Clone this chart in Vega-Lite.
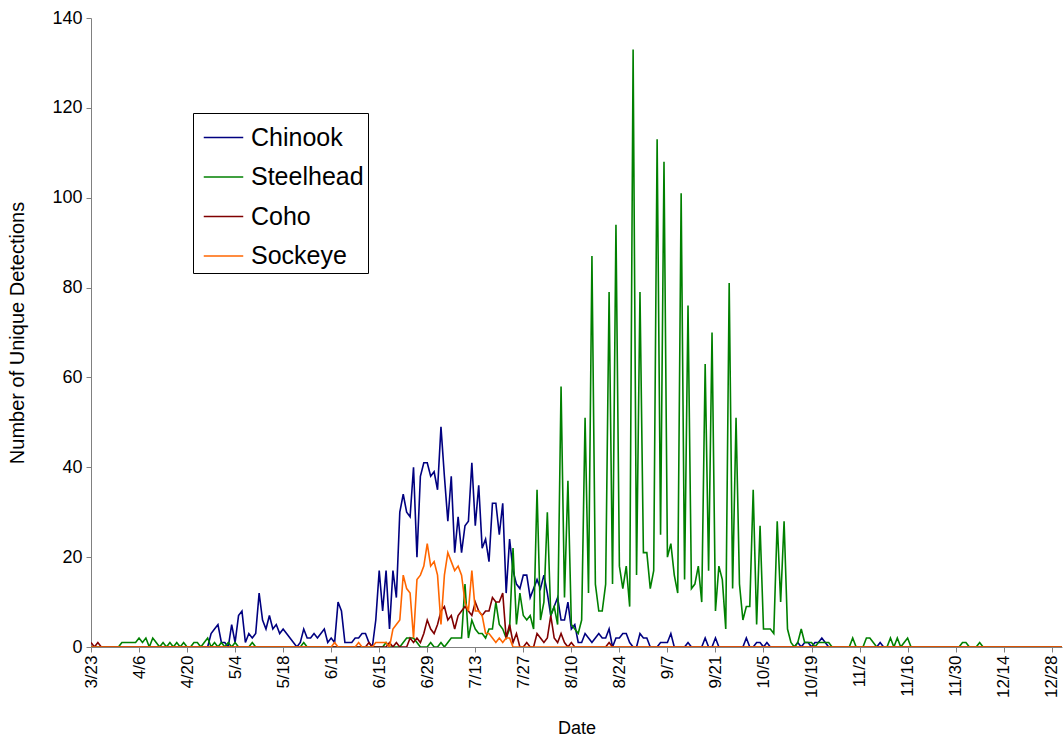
{
"$schema":"https://vega.github.io/schema/vega-lite/v6.json",
"autosize":"none",
"width":971,"height":629,
"padding":{"left":91,"top":18,"right":1,"bottom":93},
"background":"white",
"config":{"view":{"stroke":null},"font":"Liberation Sans"},
"data":{"values":[
{"date":"2009/03/23","Chinook":0,"Steelhead":0,"Coho":1,"Sockeye":0},
{"date":"2009/03/24","Chinook":0,"Steelhead":0,"Coho":0,"Sockeye":0},
{"date":"2009/03/25","Chinook":0,"Steelhead":0,"Coho":1,"Sockeye":0},
{"date":"2009/03/26","Chinook":0,"Steelhead":0,"Coho":0,"Sockeye":0},
{"date":"2009/03/27","Chinook":0,"Steelhead":0,"Coho":0,"Sockeye":0},
{"date":"2009/03/28","Chinook":0,"Steelhead":0,"Coho":0,"Sockeye":0},
{"date":"2009/03/29","Chinook":0,"Steelhead":0,"Coho":0,"Sockeye":0},
{"date":"2009/03/30","Chinook":0,"Steelhead":0,"Coho":0,"Sockeye":0},
{"date":"2009/03/31","Chinook":0,"Steelhead":0,"Coho":0,"Sockeye":0},
{"date":"2009/04/01","Chinook":0,"Steelhead":1,"Coho":0,"Sockeye":0},
{"date":"2009/04/02","Chinook":0,"Steelhead":1,"Coho":0,"Sockeye":0},
{"date":"2009/04/03","Chinook":0,"Steelhead":1,"Coho":0,"Sockeye":0},
{"date":"2009/04/04","Chinook":0,"Steelhead":1,"Coho":0,"Sockeye":0},
{"date":"2009/04/05","Chinook":0,"Steelhead":1,"Coho":0,"Sockeye":0},
{"date":"2009/04/06","Chinook":0,"Steelhead":2,"Coho":0,"Sockeye":0},
{"date":"2009/04/07","Chinook":0,"Steelhead":1,"Coho":0,"Sockeye":0},
{"date":"2009/04/08","Chinook":0,"Steelhead":2,"Coho":0,"Sockeye":0},
{"date":"2009/04/09","Chinook":0,"Steelhead":0,"Coho":0,"Sockeye":0},
{"date":"2009/04/10","Chinook":0,"Steelhead":2,"Coho":0,"Sockeye":0},
{"date":"2009/04/11","Chinook":0,"Steelhead":1,"Coho":0,"Sockeye":0},
{"date":"2009/04/12","Chinook":0,"Steelhead":0,"Coho":0,"Sockeye":0},
{"date":"2009/04/13","Chinook":0,"Steelhead":1,"Coho":0,"Sockeye":0},
{"date":"2009/04/14","Chinook":0,"Steelhead":0,"Coho":0,"Sockeye":0},
{"date":"2009/04/15","Chinook":0,"Steelhead":1,"Coho":0,"Sockeye":0},
{"date":"2009/04/16","Chinook":0,"Steelhead":0,"Coho":0,"Sockeye":0},
{"date":"2009/04/17","Chinook":0,"Steelhead":1,"Coho":0,"Sockeye":0},
{"date":"2009/04/18","Chinook":0,"Steelhead":0,"Coho":0,"Sockeye":0},
{"date":"2009/04/19","Chinook":0,"Steelhead":1,"Coho":0,"Sockeye":0},
{"date":"2009/04/20","Chinook":0,"Steelhead":0,"Coho":0,"Sockeye":0},
{"date":"2009/04/21","Chinook":0,"Steelhead":0,"Coho":0,"Sockeye":0},
{"date":"2009/04/22","Chinook":0,"Steelhead":1,"Coho":0,"Sockeye":0},
{"date":"2009/04/23","Chinook":0,"Steelhead":1,"Coho":0,"Sockeye":0},
{"date":"2009/04/24","Chinook":0,"Steelhead":0,"Coho":0,"Sockeye":0},
{"date":"2009/04/25","Chinook":0,"Steelhead":1,"Coho":0,"Sockeye":0},
{"date":"2009/04/26","Chinook":0,"Steelhead":2,"Coho":0,"Sockeye":0},
{"date":"2009/04/27","Chinook":3,"Steelhead":0,"Coho":0,"Sockeye":0},
{"date":"2009/04/28","Chinook":4,"Steelhead":1,"Coho":0,"Sockeye":0},
{"date":"2009/04/29","Chinook":5,"Steelhead":0,"Coho":0,"Sockeye":0},
{"date":"2009/04/30","Chinook":1,"Steelhead":1,"Coho":0,"Sockeye":0},
{"date":"2009/05/01","Chinook":1,"Steelhead":0,"Coho":0,"Sockeye":0},
{"date":"2009/05/02","Chinook":0,"Steelhead":1,"Coho":0,"Sockeye":0},
{"date":"2009/05/03","Chinook":5,"Steelhead":0,"Coho":0,"Sockeye":0},
{"date":"2009/05/04","Chinook":1,"Steelhead":1,"Coho":0,"Sockeye":0},
{"date":"2009/05/05","Chinook":7,"Steelhead":0,"Coho":0,"Sockeye":0},
{"date":"2009/05/06","Chinook":8,"Steelhead":0,"Coho":0,"Sockeye":0},
{"date":"2009/05/07","Chinook":1,"Steelhead":0,"Coho":0,"Sockeye":0},
{"date":"2009/05/08","Chinook":3,"Steelhead":0,"Coho":0,"Sockeye":0},
{"date":"2009/05/09","Chinook":2,"Steelhead":1,"Coho":0,"Sockeye":0},
{"date":"2009/05/10","Chinook":3,"Steelhead":0,"Coho":0,"Sockeye":0},
{"date":"2009/05/11","Chinook":12,"Steelhead":0,"Coho":0,"Sockeye":0},
{"date":"2009/05/12","Chinook":6,"Steelhead":0,"Coho":0,"Sockeye":0},
{"date":"2009/05/13","Chinook":4,"Steelhead":0,"Coho":0,"Sockeye":0},
{"date":"2009/05/14","Chinook":7,"Steelhead":0,"Coho":0,"Sockeye":0},
{"date":"2009/05/15","Chinook":4,"Steelhead":0,"Coho":0,"Sockeye":0},
{"date":"2009/05/16","Chinook":5,"Steelhead":0,"Coho":0,"Sockeye":0},
{"date":"2009/05/17","Chinook":3,"Steelhead":0,"Coho":0,"Sockeye":0},
{"date":"2009/05/18","Chinook":4,"Steelhead":0,"Coho":0,"Sockeye":0},
{"date":"2009/05/19","Chinook":3,"Steelhead":0,"Coho":0,"Sockeye":0},
{"date":"2009/05/20","Chinook":2,"Steelhead":0,"Coho":0,"Sockeye":0},
{"date":"2009/05/21","Chinook":1,"Steelhead":0,"Coho":0,"Sockeye":0},
{"date":"2009/05/22","Chinook":0,"Steelhead":0,"Coho":0,"Sockeye":0},
{"date":"2009/05/23","Chinook":1,"Steelhead":0,"Coho":0,"Sockeye":0},
{"date":"2009/05/24","Chinook":4,"Steelhead":1,"Coho":0,"Sockeye":0},
{"date":"2009/05/25","Chinook":2,"Steelhead":0,"Coho":0,"Sockeye":0},
{"date":"2009/05/26","Chinook":2,"Steelhead":0,"Coho":0,"Sockeye":0},
{"date":"2009/05/27","Chinook":3,"Steelhead":0,"Coho":0,"Sockeye":0},
{"date":"2009/05/28","Chinook":2,"Steelhead":0,"Coho":0,"Sockeye":0},
{"date":"2009/05/29","Chinook":3,"Steelhead":0,"Coho":0,"Sockeye":0},
{"date":"2009/05/30","Chinook":4,"Steelhead":0,"Coho":0,"Sockeye":0},
{"date":"2009/05/31","Chinook":1,"Steelhead":0,"Coho":0,"Sockeye":0},
{"date":"2009/06/01","Chinook":2,"Steelhead":0,"Coho":0,"Sockeye":0},
{"date":"2009/06/02","Chinook":1,"Steelhead":0,"Coho":0,"Sockeye":1},
{"date":"2009/06/03","Chinook":10,"Steelhead":0,"Coho":0,"Sockeye":0},
{"date":"2009/06/04","Chinook":8,"Steelhead":0,"Coho":0,"Sockeye":0},
{"date":"2009/06/05","Chinook":1,"Steelhead":0,"Coho":0,"Sockeye":0},
{"date":"2009/06/06","Chinook":1,"Steelhead":0,"Coho":0,"Sockeye":0},
{"date":"2009/06/07","Chinook":1,"Steelhead":0,"Coho":0,"Sockeye":0},
{"date":"2009/06/08","Chinook":2,"Steelhead":0,"Coho":0,"Sockeye":0},
{"date":"2009/06/09","Chinook":2,"Steelhead":0,"Coho":0,"Sockeye":1},
{"date":"2009/06/10","Chinook":3,"Steelhead":0,"Coho":0,"Sockeye":0},
{"date":"2009/06/11","Chinook":3,"Steelhead":0,"Coho":0,"Sockeye":0},
{"date":"2009/06/12","Chinook":1,"Steelhead":0,"Coho":1,"Sockeye":0},
{"date":"2009/06/13","Chinook":0,"Steelhead":0,"Coho":0,"Sockeye":0},
{"date":"2009/06/14","Chinook":6,"Steelhead":0,"Coho":0,"Sockeye":1},
{"date":"2009/06/15","Chinook":17,"Steelhead":0,"Coho":0,"Sockeye":1},
{"date":"2009/06/16","Chinook":8,"Steelhead":0,"Coho":0,"Sockeye":1},
{"date":"2009/06/17","Chinook":17,"Steelhead":1,"Coho":0,"Sockeye":1},
{"date":"2009/06/18","Chinook":4,"Steelhead":0,"Coho":1,"Sockeye":0},
{"date":"2009/06/19","Chinook":17,"Steelhead":0,"Coho":0,"Sockeye":4},
{"date":"2009/06/20","Chinook":11,"Steelhead":0,"Coho":1,"Sockeye":5},
{"date":"2009/06/21","Chinook":30,"Steelhead":0,"Coho":0,"Sockeye":6},
{"date":"2009/06/22","Chinook":34,"Steelhead":1,"Coho":0,"Sockeye":16},
{"date":"2009/06/23","Chinook":30,"Steelhead":2,"Coho":0,"Sockeye":13},
{"date":"2009/06/24","Chinook":29,"Steelhead":2,"Coho":2,"Sockeye":12},
{"date":"2009/06/25","Chinook":40,"Steelhead":2,"Coho":1,"Sockeye":2},
{"date":"2009/06/26","Chinook":20,"Steelhead":1,"Coho":2,"Sockeye":15},
{"date":"2009/06/27","Chinook":38,"Steelhead":0,"Coho":1,"Sockeye":16},
{"date":"2009/06/28","Chinook":41,"Steelhead":0,"Coho":3,"Sockeye":18},
{"date":"2009/06/29","Chinook":41,"Steelhead":0,"Coho":6,"Sockeye":23},
{"date":"2009/06/30","Chinook":38,"Steelhead":1,"Coho":4,"Sockeye":18},
{"date":"2009/07/01","Chinook":39,"Steelhead":0,"Coho":3,"Sockeye":19},
{"date":"2009/07/02","Chinook":35,"Steelhead":0,"Coho":5,"Sockeye":16},
{"date":"2009/07/03","Chinook":49,"Steelhead":1,"Coho":8,"Sockeye":5},
{"date":"2009/07/04","Chinook":38,"Steelhead":0,"Coho":9,"Sockeye":16},
{"date":"2009/07/05","Chinook":28,"Steelhead":1,"Coho":6,"Sockeye":21},
{"date":"2009/07/06","Chinook":38,"Steelhead":2,"Coho":7,"Sockeye":19},
{"date":"2009/07/07","Chinook":21,"Steelhead":2,"Coho":4,"Sockeye":17},
{"date":"2009/07/08","Chinook":29,"Steelhead":2,"Coho":7,"Sockeye":18},
{"date":"2009/07/09","Chinook":21,"Steelhead":2,"Coho":8,"Sockeye":16},
{"date":"2009/07/10","Chinook":27,"Steelhead":14,"Coho":9,"Sockeye":10},
{"date":"2009/07/11","Chinook":28,"Steelhead":2,"Coho":8,"Sockeye":8},
{"date":"2009/07/12","Chinook":41,"Steelhead":6,"Coho":7,"Sockeye":17},
{"date":"2009/07/13","Chinook":27,"Steelhead":4,"Coho":10,"Sockeye":8},
{"date":"2009/07/14","Chinook":36,"Steelhead":3,"Coho":8,"Sockeye":8},
{"date":"2009/07/15","Chinook":22,"Steelhead":3,"Coho":7,"Sockeye":7},
{"date":"2009/07/16","Chinook":24,"Steelhead":2,"Coho":8,"Sockeye":3},
{"date":"2009/07/17","Chinook":19,"Steelhead":4,"Coho":8,"Sockeye":3},
{"date":"2009/07/18","Chinook":32,"Steelhead":4,"Coho":11,"Sockeye":2},
{"date":"2009/07/19","Chinook":32,"Steelhead":10,"Coho":10,"Sockeye":1},
{"date":"2009/07/20","Chinook":25,"Steelhead":5,"Coho":10,"Sockeye":2},
{"date":"2009/07/21","Chinook":32,"Steelhead":4,"Coho":12,"Sockeye":1},
{"date":"2009/07/22","Chinook":12,"Steelhead":2,"Coho":2,"Sockeye":2},
{"date":"2009/07/23","Chinook":24,"Steelhead":4,"Coho":5,"Sockeye":2},
{"date":"2009/07/24","Chinook":17,"Steelhead":22,"Coho":1,"Sockeye":0},
{"date":"2009/07/25","Chinook":14,"Steelhead":5,"Coho":3,"Sockeye":0},
{"date":"2009/07/26","Chinook":13,"Steelhead":12,"Coho":0,"Sockeye":0},
{"date":"2009/07/27","Chinook":16,"Steelhead":7,"Coho":0,"Sockeye":0},
{"date":"2009/07/28","Chinook":16,"Steelhead":6,"Coho":1,"Sockeye":0},
{"date":"2009/07/29","Chinook":11,"Steelhead":7,"Coho":0,"Sockeye":0},
{"date":"2009/07/30","Chinook":13,"Steelhead":4,"Coho":0,"Sockeye":0},
{"date":"2009/07/31","Chinook":15,"Steelhead":35,"Coho":3,"Sockeye":0},
{"date":"2009/08/01","Chinook":13,"Steelhead":6,"Coho":2,"Sockeye":0},
{"date":"2009/08/02","Chinook":16,"Steelhead":10,"Coho":1,"Sockeye":0},
{"date":"2009/08/03","Chinook":12,"Steelhead":30,"Coho":2,"Sockeye":0},
{"date":"2009/08/04","Chinook":7,"Steelhead":7,"Coho":7,"Sockeye":0},
{"date":"2009/08/05","Chinook":9,"Steelhead":9,"Coho":2,"Sockeye":0},
{"date":"2009/08/06","Chinook":11,"Steelhead":5,"Coho":1,"Sockeye":0},
{"date":"2009/08/07","Chinook":6,"Steelhead":58,"Coho":3,"Sockeye":0},
{"date":"2009/08/08","Chinook":6,"Steelhead":11,"Coho":1,"Sockeye":0},
{"date":"2009/08/09","Chinook":10,"Steelhead":37,"Coho":0,"Sockeye":0},
{"date":"2009/08/10","Chinook":4,"Steelhead":5,"Coho":1,"Sockeye":0},
{"date":"2009/08/11","Chinook":5,"Steelhead":4,"Coho":0,"Sockeye":0},
{"date":"2009/08/12","Chinook":1,"Steelhead":3,"Coho":0,"Sockeye":0},
{"date":"2009/08/13","Chinook":1,"Steelhead":6,"Coho":0,"Sockeye":0},
{"date":"2009/08/14","Chinook":3,"Steelhead":51,"Coho":0,"Sockeye":0},
{"date":"2009/08/15","Chinook":2,"Steelhead":12,"Coho":0,"Sockeye":0},
{"date":"2009/08/16","Chinook":1,"Steelhead":87,"Coho":0,"Sockeye":0},
{"date":"2009/08/17","Chinook":2,"Steelhead":14,"Coho":0,"Sockeye":0},
{"date":"2009/08/18","Chinook":3,"Steelhead":8,"Coho":0,"Sockeye":0},
{"date":"2009/08/19","Chinook":2,"Steelhead":8,"Coho":0,"Sockeye":0},
{"date":"2009/08/20","Chinook":2,"Steelhead":14,"Coho":0,"Sockeye":0},
{"date":"2009/08/21","Chinook":4,"Steelhead":79,"Coho":1,"Sockeye":0},
{"date":"2009/08/22","Chinook":0,"Steelhead":14,"Coho":0,"Sockeye":0},
{"date":"2009/08/23","Chinook":2,"Steelhead":94,"Coho":0,"Sockeye":0},
{"date":"2009/08/24","Chinook":2,"Steelhead":18,"Coho":0,"Sockeye":0},
{"date":"2009/08/25","Chinook":3,"Steelhead":13,"Coho":0,"Sockeye":0},
{"date":"2009/08/26","Chinook":3,"Steelhead":18,"Coho":0,"Sockeye":0},
{"date":"2009/08/27","Chinook":1,"Steelhead":9,"Coho":0,"Sockeye":0},
{"date":"2009/08/28","Chinook":0,"Steelhead":133,"Coho":0,"Sockeye":0},
{"date":"2009/08/29","Chinook":0,"Steelhead":16,"Coho":0,"Sockeye":0},
{"date":"2009/08/30","Chinook":3,"Steelhead":79,"Coho":0,"Sockeye":0},
{"date":"2009/08/31","Chinook":2,"Steelhead":21,"Coho":0,"Sockeye":0},
{"date":"2009/09/01","Chinook":2,"Steelhead":21,"Coho":0,"Sockeye":0},
{"date":"2009/09/02","Chinook":0,"Steelhead":13,"Coho":0,"Sockeye":0},
{"date":"2009/09/03","Chinook":0,"Steelhead":17,"Coho":0,"Sockeye":0},
{"date":"2009/09/04","Chinook":0,"Steelhead":113,"Coho":0,"Sockeye":0},
{"date":"2009/09/05","Chinook":1,"Steelhead":25,"Coho":0,"Sockeye":0},
{"date":"2009/09/06","Chinook":1,"Steelhead":108,"Coho":0,"Sockeye":0},
{"date":"2009/09/07","Chinook":1,"Steelhead":20,"Coho":0,"Sockeye":0},
{"date":"2009/09/08","Chinook":3,"Steelhead":23,"Coho":0,"Sockeye":0},
{"date":"2009/09/09","Chinook":0,"Steelhead":16,"Coho":0,"Sockeye":0},
{"date":"2009/09/10","Chinook":0,"Steelhead":12,"Coho":0,"Sockeye":0},
{"date":"2009/09/11","Chinook":0,"Steelhead":101,"Coho":0,"Sockeye":0},
{"date":"2009/09/12","Chinook":0,"Steelhead":15,"Coho":0,"Sockeye":0},
{"date":"2009/09/13","Chinook":1,"Steelhead":76,"Coho":0,"Sockeye":0},
{"date":"2009/09/14","Chinook":0,"Steelhead":13,"Coho":0,"Sockeye":0},
{"date":"2009/09/15","Chinook":0,"Steelhead":14,"Coho":0,"Sockeye":0},
{"date":"2009/09/16","Chinook":0,"Steelhead":18,"Coho":0,"Sockeye":0},
{"date":"2009/09/17","Chinook":0,"Steelhead":10,"Coho":0,"Sockeye":0},
{"date":"2009/09/18","Chinook":2,"Steelhead":63,"Coho":0,"Sockeye":0},
{"date":"2009/09/19","Chinook":0,"Steelhead":17,"Coho":0,"Sockeye":0},
{"date":"2009/09/20","Chinook":0,"Steelhead":70,"Coho":0,"Sockeye":0},
{"date":"2009/09/21","Chinook":2,"Steelhead":8,"Coho":0,"Sockeye":0},
{"date":"2009/09/22","Chinook":0,"Steelhead":18,"Coho":0,"Sockeye":0},
{"date":"2009/09/23","Chinook":0,"Steelhead":15,"Coho":0,"Sockeye":0},
{"date":"2009/09/24","Chinook":0,"Steelhead":4,"Coho":0,"Sockeye":0},
{"date":"2009/09/25","Chinook":0,"Steelhead":81,"Coho":0,"Sockeye":0},
{"date":"2009/09/26","Chinook":0,"Steelhead":13,"Coho":0,"Sockeye":0},
{"date":"2009/09/27","Chinook":0,"Steelhead":51,"Coho":0,"Sockeye":0},
{"date":"2009/09/28","Chinook":0,"Steelhead":14,"Coho":0,"Sockeye":0},
{"date":"2009/09/29","Chinook":0,"Steelhead":6,"Coho":0,"Sockeye":0},
{"date":"2009/09/30","Chinook":2,"Steelhead":9,"Coho":0,"Sockeye":0},
{"date":"2009/10/01","Chinook":0,"Steelhead":9,"Coho":0,"Sockeye":0},
{"date":"2009/10/02","Chinook":0,"Steelhead":35,"Coho":0,"Sockeye":0},
{"date":"2009/10/03","Chinook":1,"Steelhead":5,"Coho":0,"Sockeye":0},
{"date":"2009/10/04","Chinook":1,"Steelhead":27,"Coho":0,"Sockeye":0},
{"date":"2009/10/05","Chinook":0,"Steelhead":4,"Coho":0,"Sockeye":0},
{"date":"2009/10/06","Chinook":1,"Steelhead":4,"Coho":0,"Sockeye":0},
{"date":"2009/10/07","Chinook":0,"Steelhead":4,"Coho":0,"Sockeye":0},
{"date":"2009/10/08","Chinook":0,"Steelhead":3,"Coho":0,"Sockeye":0},
{"date":"2009/10/09","Chinook":0,"Steelhead":28,"Coho":0,"Sockeye":0},
{"date":"2009/10/10","Chinook":0,"Steelhead":10,"Coho":0,"Sockeye":0},
{"date":"2009/10/11","Chinook":0,"Steelhead":28,"Coho":0,"Sockeye":0},
{"date":"2009/10/12","Chinook":0,"Steelhead":4,"Coho":0,"Sockeye":0},
{"date":"2009/10/13","Chinook":0,"Steelhead":1,"Coho":0,"Sockeye":0},
{"date":"2009/10/14","Chinook":0,"Steelhead":0,"Coho":0,"Sockeye":0},
{"date":"2009/10/15","Chinook":1,"Steelhead":1,"Coho":0,"Sockeye":0},
{"date":"2009/10/16","Chinook":0,"Steelhead":4,"Coho":0,"Sockeye":0},
{"date":"2009/10/17","Chinook":1,"Steelhead":1,"Coho":0,"Sockeye":0},
{"date":"2009/10/18","Chinook":1,"Steelhead":1,"Coho":0,"Sockeye":0},
{"date":"2009/10/19","Chinook":0,"Steelhead":1,"Coho":0,"Sockeye":0},
{"date":"2009/10/20","Chinook":1,"Steelhead":0,"Coho":0,"Sockeye":0},
{"date":"2009/10/21","Chinook":1,"Steelhead":1,"Coho":0,"Sockeye":0},
{"date":"2009/10/22","Chinook":2,"Steelhead":1,"Coho":0,"Sockeye":0},
{"date":"2009/10/23","Chinook":1,"Steelhead":1,"Coho":0,"Sockeye":0},
{"date":"2009/10/24","Chinook":0,"Steelhead":1,"Coho":0,"Sockeye":0},
{"date":"2009/10/25","Chinook":0,"Steelhead":0,"Coho":0,"Sockeye":0},
{"date":"2009/10/26","Chinook":0,"Steelhead":0,"Coho":0,"Sockeye":0},
{"date":"2009/10/27","Chinook":0,"Steelhead":0,"Coho":0,"Sockeye":0},
{"date":"2009/10/28","Chinook":0,"Steelhead":0,"Coho":0,"Sockeye":0},
{"date":"2009/10/29","Chinook":0,"Steelhead":0,"Coho":0,"Sockeye":0},
{"date":"2009/10/30","Chinook":0,"Steelhead":0,"Coho":0,"Sockeye":0},
{"date":"2009/10/31","Chinook":0,"Steelhead":2,"Coho":0,"Sockeye":0},
{"date":"2009/11/01","Chinook":0,"Steelhead":0,"Coho":0,"Sockeye":0},
{"date":"2009/11/02","Chinook":0,"Steelhead":0,"Coho":0,"Sockeye":0},
{"date":"2009/11/03","Chinook":0,"Steelhead":0,"Coho":0,"Sockeye":0},
{"date":"2009/11/04","Chinook":0,"Steelhead":2,"Coho":0,"Sockeye":0},
{"date":"2009/11/05","Chinook":0,"Steelhead":2,"Coho":0,"Sockeye":0},
{"date":"2009/11/06","Chinook":0,"Steelhead":1,"Coho":0,"Sockeye":0},
{"date":"2009/11/07","Chinook":0,"Steelhead":0,"Coho":0,"Sockeye":0},
{"date":"2009/11/08","Chinook":1,"Steelhead":0,"Coho":0,"Sockeye":0},
{"date":"2009/11/09","Chinook":0,"Steelhead":0,"Coho":0,"Sockeye":0},
{"date":"2009/11/10","Chinook":0,"Steelhead":0,"Coho":0,"Sockeye":0},
{"date":"2009/11/11","Chinook":0,"Steelhead":2,"Coho":0,"Sockeye":0},
{"date":"2009/11/12","Chinook":0,"Steelhead":0,"Coho":0,"Sockeye":0},
{"date":"2009/11/13","Chinook":0,"Steelhead":2,"Coho":0,"Sockeye":0},
{"date":"2009/11/14","Chinook":0,"Steelhead":0,"Coho":0,"Sockeye":0},
{"date":"2009/11/15","Chinook":0,"Steelhead":1,"Coho":0,"Sockeye":0},
{"date":"2009/11/16","Chinook":0,"Steelhead":2,"Coho":0,"Sockeye":0},
{"date":"2009/11/17","Chinook":0,"Steelhead":0,"Coho":0,"Sockeye":0},
{"date":"2009/11/18","Chinook":0,"Steelhead":0,"Coho":0,"Sockeye":0},
{"date":"2009/11/19","Chinook":0,"Steelhead":0,"Coho":0,"Sockeye":0},
{"date":"2009/11/20","Chinook":0,"Steelhead":0,"Coho":0,"Sockeye":0},
{"date":"2009/11/21","Chinook":0,"Steelhead":0,"Coho":0,"Sockeye":0},
{"date":"2009/11/22","Chinook":0,"Steelhead":0,"Coho":0,"Sockeye":0},
{"date":"2009/11/23","Chinook":0,"Steelhead":0,"Coho":0,"Sockeye":0},
{"date":"2009/11/24","Chinook":0,"Steelhead":0,"Coho":0,"Sockeye":0},
{"date":"2009/11/25","Chinook":0,"Steelhead":0,"Coho":0,"Sockeye":0},
{"date":"2009/11/26","Chinook":0,"Steelhead":0,"Coho":0,"Sockeye":0},
{"date":"2009/11/27","Chinook":0,"Steelhead":0,"Coho":0,"Sockeye":0},
{"date":"2009/11/28","Chinook":0,"Steelhead":0,"Coho":0,"Sockeye":0},
{"date":"2009/11/29","Chinook":0,"Steelhead":0,"Coho":0,"Sockeye":0},
{"date":"2009/11/30","Chinook":0,"Steelhead":0,"Coho":0,"Sockeye":0},
{"date":"2009/12/01","Chinook":0,"Steelhead":0,"Coho":0,"Sockeye":0},
{"date":"2009/12/02","Chinook":0,"Steelhead":1,"Coho":0,"Sockeye":0},
{"date":"2009/12/03","Chinook":0,"Steelhead":1,"Coho":0,"Sockeye":0},
{"date":"2009/12/04","Chinook":0,"Steelhead":0,"Coho":0,"Sockeye":0},
{"date":"2009/12/05","Chinook":0,"Steelhead":0,"Coho":0,"Sockeye":0},
{"date":"2009/12/06","Chinook":0,"Steelhead":0,"Coho":0,"Sockeye":0},
{"date":"2009/12/07","Chinook":0,"Steelhead":1,"Coho":0,"Sockeye":0},
{"date":"2009/12/08","Chinook":0,"Steelhead":0,"Coho":0,"Sockeye":0},
{"date":"2009/12/09","Chinook":0,"Steelhead":0,"Coho":0,"Sockeye":0},
{"date":"2009/12/10","Chinook":0,"Steelhead":0,"Coho":0,"Sockeye":0},
{"date":"2009/12/11","Chinook":0,"Steelhead":0,"Coho":0,"Sockeye":0},
{"date":"2009/12/12","Chinook":0,"Steelhead":0,"Coho":0,"Sockeye":0},
{"date":"2009/12/13","Chinook":0,"Steelhead":0,"Coho":0,"Sockeye":0},
{"date":"2009/12/14","Chinook":0,"Steelhead":0,"Coho":0,"Sockeye":0},
{"date":"2009/12/15","Chinook":0,"Steelhead":0,"Coho":0,"Sockeye":0},
{"date":"2009/12/16","Chinook":0,"Steelhead":0,"Coho":0,"Sockeye":0},
{"date":"2009/12/17","Chinook":0,"Steelhead":0,"Coho":0,"Sockeye":0},
{"date":"2009/12/18","Chinook":0,"Steelhead":0,"Coho":0,"Sockeye":0},
{"date":"2009/12/19","Chinook":0,"Steelhead":0,"Coho":0,"Sockeye":0},
{"date":"2009/12/20","Chinook":0,"Steelhead":0,"Coho":0,"Sockeye":0},
{"date":"2009/12/21","Chinook":0,"Steelhead":0,"Coho":0,"Sockeye":0},
{"date":"2009/12/22","Chinook":0,"Steelhead":0,"Coho":0,"Sockeye":0},
{"date":"2009/12/23","Chinook":0,"Steelhead":0,"Coho":0,"Sockeye":0},
{"date":"2009/12/24","Chinook":0,"Steelhead":0,"Coho":0,"Sockeye":0},
{"date":"2009/12/25","Chinook":0,"Steelhead":0,"Coho":0,"Sockeye":0},
{"date":"2009/12/26","Chinook":0,"Steelhead":0,"Coho":0,"Sockeye":0},
{"date":"2009/12/27","Chinook":0,"Steelhead":0,"Coho":0,"Sockeye":0},
{"date":"2009/12/28","Chinook":0,"Steelhead":0,"Coho":0,"Sockeye":0},
{"date":"2009/12/29","Chinook":0,"Steelhead":0,"Coho":0,"Sockeye":0},
{"date":"2009/12/30","Chinook":0,"Steelhead":0,"Coho":0,"Sockeye":0},
{"date":"2009/12/31","Chinook":0,"Steelhead":0,"Coho":0,"Sockeye":0}
]},
"transform":[{"fold":["Chinook","Steelhead","Coho","Sockeye"],"as":["species","count"]}],
"mark":{"type":"line","strokeWidth":1.6,"clip":true},
"encoding":{
"x":{"field":"date","type":"temporal",
"scale":{"domain":[{"year":2009,"month":3,"date":23},{"year":2009,"month":12,"date":31}]},
"axis":{"values":[
{"year":2009,"month":3,"date":23},{"year":2009,"month":4,"date":6},{"year":2009,"month":4,"date":20},
{"year":2009,"month":5,"date":4},{"year":2009,"month":5,"date":18},{"year":2009,"month":6,"date":1},
{"year":2009,"month":6,"date":15},{"year":2009,"month":6,"date":29},{"year":2009,"month":7,"date":13},
{"year":2009,"month":7,"date":27},{"year":2009,"month":8,"date":10},{"year":2009,"month":8,"date":24},
{"year":2009,"month":9,"date":7},{"year":2009,"month":9,"date":21},{"year":2009,"month":10,"date":5},
{"year":2009,"month":10,"date":19},{"year":2009,"month":11,"date":2},{"year":2009,"month":11,"date":16},
{"year":2009,"month":11,"date":30},{"year":2009,"month":12,"date":14},{"year":2009,"month":12,"date":28}],
"format":"%-m/%-d","labelAngle":-90,"labelFontSize":17,"labelColor":"black","labelPadding":3,
"tickSize":5,"tickColor":"#808080","domainColor":"#808080","grid":false,
"title":"Date","titleFontSize":18,"titleFontWeight":"normal","titleColor":"black","titlePadding":22}},
"y":{"field":"count","type":"quantitative","scale":{"domain":[0,140],"nice":false},
"axis":{"values":[0,20,40,60,80,100,120,140],"labelFontSize":18,"labelColor":"black","labelPadding":4,
"tickSize":5,"tickColor":"#808080","domainColor":"#808080","grid":false,
"title":"Number of Unique Detections","titleFontSize":20,"titleFontWeight":"normal","titleColor":"black","titlePadding":24}},
"color":{"field":"species","type":"nominal",
"scale":{"domain":["Chinook","Steelhead","Coho","Sockeye"],"range":["#000080","#008000","#800000","#FF6600"]},
"legend":{"orient":"none","legendX":102,"legendY":95,"title":null,"symbolType":"stroke","symbolSize":1560,
"symbolStrokeWidth":1.5,"labelFontSize":25,"labelColor":"black","strokeColor":"black","fillColor":"white",
"padding":4,"rowPadding":5.5,"symbolOffset":6,"labelOffset":7}}
}
}
